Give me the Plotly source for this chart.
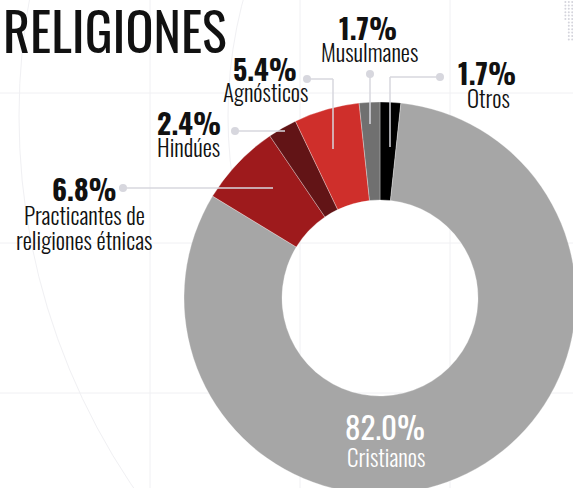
import numpy as np
import plotly.graph_objects as go

# ---------------- data ----------------
labels = ["Otros", "Cristianos", "Practicantes de religiones étnicas",
          "Hindúes", "Agnósticos", "Musulmanes"]
values = [1.7, 82.0, 6.8, 2.4, 5.4, 1.7]
label_lines = {
    "Otros": ["Otros"],
    "Cristianos": ["Cristianos"],
    "Practicantes de religiones étnicas": ["Practicantes de", "religiones étnicas"],
    "Hindúes": ["Hindúes"],
    "Agnósticos": ["Agnósticos"],
    "Musulmanes": ["Musulmanes"],
}
colors = ["#000000", "#a6a6a6", "#9e1a1c", "#621416", "#cf2f2b", "#707070"]
title_text = "RELIGIONES"

# ---------------- canvas (pixel helpers) ----------------
W, H = 600, 520
FONT = "Oswald, Archivo Narrow, Roboto Condensed, sans-serif"
LINE_C = "#d7d7de"


def px(x):
    return x / W


def py(y):
    return 1 - y / H


# donut geometry (pixels)
CX, CY, R = 380, 298, 196

fig = go.Figure()
fig.add_trace(go.Pie(
    labels=labels, values=values, sort=False, direction="clockwise", rotation=0,
    hole=0.5, textinfo="none", hoverinfo="skip", showlegend=False,
    marker=dict(colors=colors, line=dict(color="rgba(255,255,255,0.5)", width=0.6)),
    domain=dict(x=[px(CX - R), px(CX + R)], y=[py(CY + R), py(CY - R)]),
))

shapes = []
# faint background grid
for gx in [150, 300, 450]:
    shapes.append(dict(type="line", xref="paper", yref="paper", x0=px(gx), x1=px(gx),
                       y0=0, y1=1, line=dict(color="#f0f0f3", width=1), layer="below"))
for gy in [93, 243, 393]:
    shapes.append(dict(type="line", xref="paper", yref="paper", x0=0, x1=1,
                       y0=py(gy), y1=py(gy), line=dict(color="#f0f0f3", width=1), layer="below"))
# faint decorative circles
for rr in [661, 452]:
    shapes.append(dict(type="circle", xref="paper", yref="paper",
                       x0=px(680 - rr), x1=px(680 + rr), y0=py(116 + rr), y1=py(116 - rr),
                       line=dict(color="#f0f0f3", width=1), layer="below"))
# dot pattern top-right
for yy in np.arange(2, 40, 3.4):
    for xx in np.arange(562, 575, 3.4):
        if xx >= 562 + yy * 0.16:
            shapes.append(dict(type="circle", xref="paper", yref="paper",
                               x0=px(xx - 1), x1=px(xx + 1), y0=py(yy + 1), y1=py(yy - 1),
                               fillcolor="#d4d4dc", line=dict(width=0), layer="below"))

# leader lines (pixel polylines) with end dots
leaders = {
    "Practicantes de religiones étnicas": [(123, 188), (273, 188)],
    "Hindúes": [(235, 131), (285, 131)],
    "Agnósticos": [(307, 79), (333, 79), (333, 149)],
    "Musulmanes": [(370, 74), (370, 124)],
    "Otros": [(440, 77), (390, 77), (390, 147)],
}
for name, pts in leaders.items():
    for (x0, y0), (x1, y1) in zip(pts[:-1], pts[1:]):
        shapes.append(dict(type="line", xref="paper", yref="paper",
                           x0=px(x0), y0=py(y0), x1=px(x1), y1=py(y1),
                           line=dict(color=LINE_C, width=1.5)))
    dx, dy = pts[0]
    shapes.append(dict(type="circle", xref="paper", yref="paper",
                       x0=px(dx - 4), x1=px(dx + 4), y0=py(dy + 4), y1=py(dy - 4),
                       fillcolor=LINE_C, line=dict(width=0)))

# label placement (pixel centres): percent centre, first label line centre
label_pos = {
    "Practicantes de religiones étnicas": ((84.5, 188), (84, 215)),
    "Hindúes": ((188.5, 122), (188, 147)),
    "Agnósticos": ((264.5, 69), (265, 92)),
    "Musulmanes": ((367.5, 27), (369, 52)),
    "Otros": ((487, 73), (488, 98)),
    "Cristianos": ((385, 426), (386, 457)),
}

annotations = []


def add_text(text, x, y, size, color="#111111", weight=400, xanchor="center"):
    annotations.append(dict(text=text, x=px(x), y=py(y), xref="paper", yref="paper",
                            xanchor=xanchor, yanchor="middle", showarrow=False,
                            font=dict(family=FONT, size=size, color=color, weight=weight)))


for name, val in zip(labels, values):
    (pcx, pcy), (lcx, lcy) = label_pos[name]
    if name == "Cristianos":
        add_text(f"{val:.1f}%", pcx, pcy, 31, color="#ffffff", weight=400)
        for i, ln in enumerate(label_lines[name]):
            add_text(ln, lcx, lcy + i * 25, 23, color="#ffffff", weight=350)
    else:
        add_text(f"{val:.1f}%", pcx, pcy, 28, weight=700)
        for i, ln in enumerate(label_lines[name]):
            add_text(ln, lcx, lcy + i * 25, 23, weight=350)

add_text(title_text, 1, 29, 52, xanchor="left", weight=400)

fig.update_layout(
    width=W, height=H, margin=dict(l=0, r=0, t=0, b=0),
    paper_bgcolor="#ffffff", plot_bgcolor="#ffffff",
    shapes=shapes, annotations=annotations, showlegend=False,
)

fig.write_html("out.html", config={"displayModeBar": False},
               post_script="document.body.style.margin='0';document.body.style.overflow='hidden';")
